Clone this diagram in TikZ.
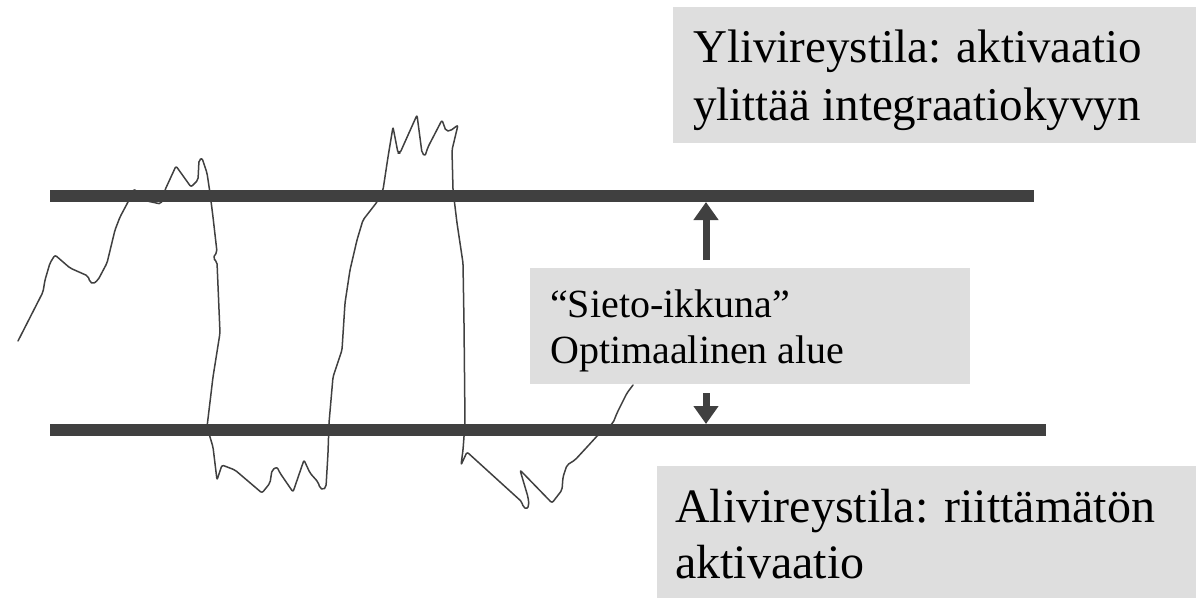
\documentclass[tikz,border=0pt]{standalone}
\usepackage{fontspec}
\setmainfont{Liberation Serif}
\usetikzlibrary{arrows.meta}
\definecolor{bargray}{RGB}{64,64,64}
\definecolor{boxgray}{RGB}{222,222,222}
\begin{document}
\begin{tikzpicture}[x=1pt,y=-1pt,
  bar/.style={line width=12pt, draw=bargray, line cap=butt},
  trace/.style={line width=1.5pt, draw=bargray, line join=round, line cap=round, rounded corners=2pt},
  graybox/.style={fill=boxgray, draw=none, inner sep=0pt, outer sep=0pt, anchor=north west},
  boxtext/.style={anchor=base west, align=left, inner sep=0pt, text=black},
  shaft/.style={line width=7pt, draw=bargray, -{Triangle[width=24pt,length=18pt]}}
]
\useasboundingbox (0,0) rectangle (1196,598);

% arousal trace
\draw[trace] (18,341) -- (43,292) -- (45,280) -- (50,263) -- (55,255) -- (70,268) -- (88,276)
  -- (90,282) -- (93,284) -- (98,280) -- (107,263) -- (115,230) -- (120,217) -- (128,202)
  -- (134,189) -- (147,201) -- (161,204) -- (165,190) -- (176,166) -- (191,187) -- (198,180)
  -- (199,160) -- (202,158) -- (207,173) -- (210,193) -- (213,217) -- (217,252) -- (213,258)
  -- (217,262) -- (220,333) -- (213,377) -- (207,427) -- (210,437) -- (213,447) -- (217,480)
  -- (222,465) -- (235,470) -- (262,493) -- (270,483) -- (272,470) -- (277,467) -- (280,473)
  -- (293,492) -- (304,460) -- (310,473) -- (318,482) -- (320,488) -- (323,490) -- (326,487)
  -- (328,453) -- (329,423) -- (333,377) -- (342,350) -- (345,303) -- (350,270) -- (357,240)
  -- (363,220) -- (377,202) -- (383,190) -- (388,157) -- (393,127) -- (398,153) -- (400,153)
  -- (417,115) -- (422,153) -- (425,156) -- (428,147) -- (442,120) -- (446,131) -- (450,131)
  -- (458,125) -- (452,150) -- (453,190) -- (457,223) -- (463,263) -- (464,323) -- (465,423)
  -- (463,450) -- (461,465) -- (467,452) -- (522,502) -- (523,507) -- (527,509) -- (529,505)
  -- (528,497) -- (520,470) -- (552,503) -- (562,490) -- (563,477) -- (567,465) -- (575,460)
  -- (587,447) -- (598,435) -- (613,423) -- (617,413) -- (620,407) -- (627,393) -- (633,385);

% limit bars
\coordinate (topL) at (50,196);
\coordinate (topR) at (1034,196);
\coordinate (botL) at (50,430);
\coordinate (botR) at (1046,430);
\draw[bar] (topL) -- (topR);
\draw[bar] (botL) -- (botR);

% boxes
\node[graybox, minimum width=523pt, minimum height=136pt] (overbox) at (673,7) {};
\node[graybox, minimum width=440pt, minimum height=116pt] (window) at (530,268) {};
\node[graybox, minimum width=539pt, minimum height=132pt] (underbox) at (657,466) {};

% texts (anchor at baseline of last line)
\node[boxtext, font=\fontsize{47}{58}\selectfont] (overtext) at (693,120)
  {Ylivireystila: aktivaatio\\ylittää integraatiokyvyn};
\node[boxtext, font=\fontsize{40}{46}\selectfont] (windowtext) at (550,363)
  {“Sieto-ikkuna”\\Optimaalinen alue};
\node[boxtext, font=\fontsize{48}{56}\selectfont] (undertext) at (675,578)
  {Alivireystila: riittämätön\\aktivaatio};

% arrows
\coordinate (ax) at (706,0);
\draw[shaft, shorten <=8pt, shorten >=6pt] (window.north -| ax) -- (topL -| ax);
\draw[shaft, shorten <=9pt, shorten >=6pt] (window.south -| ax) -- (botL -| ax);
\end{tikzpicture}
\end{document}
